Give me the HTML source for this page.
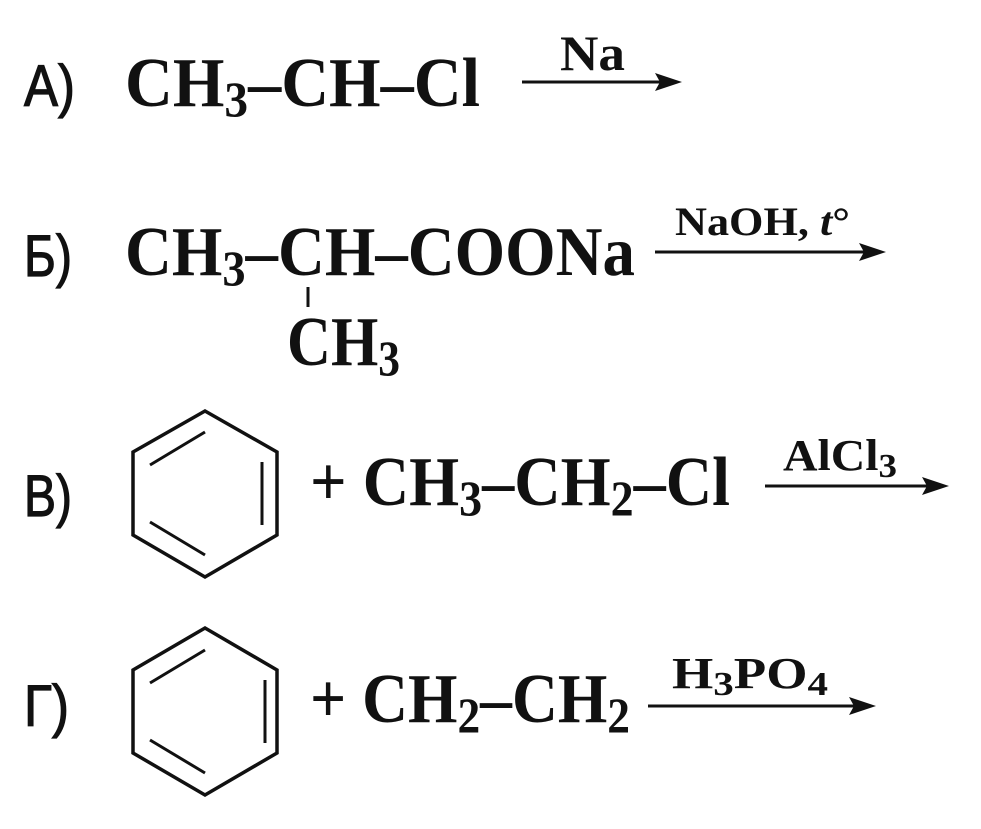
<!DOCTYPE html>
<html><head><meta charset="utf-8"><style>
html,body{margin:0;padding:0;background:#fff;}
svg{display:block;}
.s{font-family:"Liberation Serif",serif;font-weight:bold;fill:#111;}
.l{font-family:"Liberation Sans","DejaVu Sans",sans-serif;fill:#111;stroke:#111;stroke-width:1.2;}
</style></head><body>
<svg width="981" height="829" viewBox="0 0 981 829" xmlns="http://www.w3.org/2000/svg">
<g stroke="#111" fill="none">
<line x1="522" y1="82" x2="668" y2="82" stroke-width="3"/>
<line x1="655" y1="252" x2="872" y2="252" stroke-width="3"/>
<line x1="765" y1="486" x2="935" y2="486" stroke-width="3"/>
<line x1="648" y1="706" x2="862" y2="706" stroke-width="3"/>
<line x1="308" y1="287" x2="308" y2="307" stroke-width="3"/>
<polygon points="205,411 277,452 277,535 205,577 133,535 133,452" stroke-width="3.5"/>
<line x1="150" y1="465" x2="205" y2="432" stroke-width="3"/>
<line x1="262" y1="462" x2="262" y2="525" stroke-width="3"/>
<line x1="150" y1="522" x2="205" y2="555" stroke-width="3"/>
<polygon points="205,628 277,670 277,753 205,795 133,753 133,670" stroke-width="3.5"/>
<line x1="150" y1="683" x2="205" y2="650" stroke-width="3"/>
<line x1="265" y1="680" x2="265" y2="743" stroke-width="3"/>
<line x1="150" y1="740" x2="205" y2="773" stroke-width="3"/>
</g>
<g fill="#111">
<polygon points="682,82 655,73 660,82 655,91"/>
<polygon points="886,252 859,243 864,252 859,261"/>
<polygon points="949,486 922,477 927,486 922,495"/>
<polygon points="876,706 849,697 854,706 849,715"/>
</g>
<text class="l" x="24" y="106" font-size="58" textLength="51" lengthAdjust="spacingAndGlyphs">А)</text>
<text class="l" x="24" y="276" font-size="58" textLength="48" lengthAdjust="spacingAndGlyphs">Б)</text>
<text class="l" x="24" y="516" font-size="58" textLength="48" lengthAdjust="spacingAndGlyphs">В)</text>
<text class="l" x="24" y="726" font-size="58" textLength="45" lengthAdjust="spacingAndGlyphs">Г)</text>
<text class="s" x="125" y="106" font-size="70" textLength="355" lengthAdjust="spacingAndGlyphs">CH<tspan font-size="50" dy="10">3</tspan><tspan dy="-10">–CH–Cl</tspan></text>
<text class="s" x="560" y="70" font-size="50" textLength="65" lengthAdjust="spacingAndGlyphs">Na</text>
<text class="s" x="125" y="275" font-size="70" textLength="510" lengthAdjust="spacingAndGlyphs">CH<tspan font-size="50" dy="10">3</tspan><tspan dy="-10">–CH–COONa</tspan></text>
<text class="s" x="287" y="365" font-size="70" textLength="113" lengthAdjust="spacingAndGlyphs">CH<tspan font-size="50" dy="10">3</tspan></text>
<text class="s" x="675" y="235" font-size="40" textLength="175" lengthAdjust="spacingAndGlyphs">NaOH, <tspan font-style="italic">t</tspan>°</text>
<text class="s" x="310" y="505" font-size="70" textLength="420" lengthAdjust="spacingAndGlyphs">+ CH<tspan font-size="50" dy="10">3</tspan><tspan dy="-10">–CH</tspan><tspan font-size="50" dy="10">2</tspan><tspan dy="-10">–Cl</tspan></text>
<text class="s" x="783" y="470" font-size="44" textLength="114" lengthAdjust="spacingAndGlyphs">AlCl<tspan font-size="34" dy="7">3</tspan></text>
<text class="s" x="310" y="722" font-size="70" textLength="320" lengthAdjust="spacingAndGlyphs">+ CH<tspan font-size="50" dy="10">2</tspan><tspan dy="-10">–CH</tspan><tspan font-size="50" dy="10">2</tspan></text>
<text class="s" x="672" y="688" font-size="44" textLength="156" lengthAdjust="spacingAndGlyphs">H<tspan font-size="34" dy="7">3</tspan><tspan dy="-7">PO</tspan><tspan font-size="34" dy="7">4</tspan></text>
</svg>
</body></html>
